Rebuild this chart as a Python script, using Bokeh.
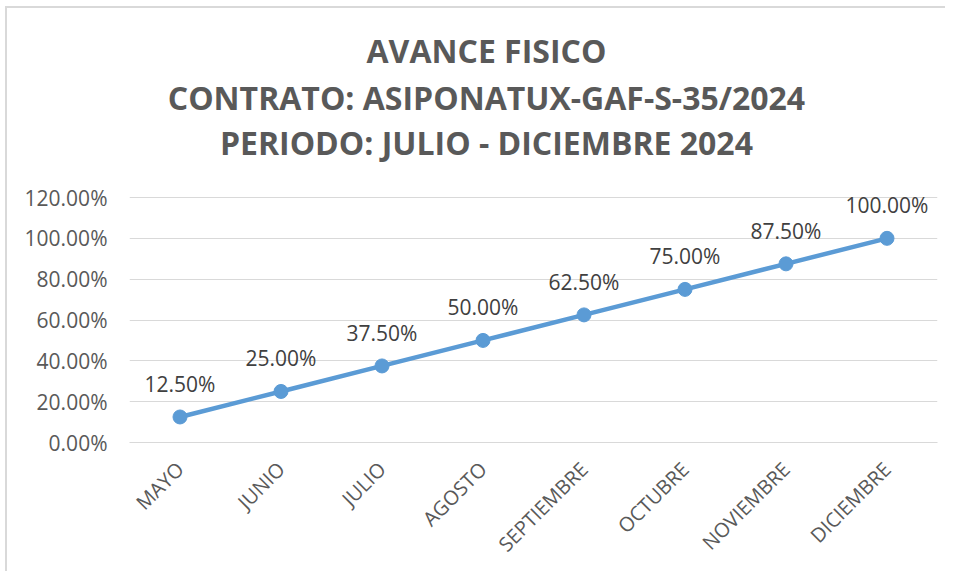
import math
from bokeh.plotting import figure
from bokeh.models import (ColumnDataSource, FactorRange, Range1d, NumeralTickFormatter,
                          FixedTicker, LabelSet, Label)
from bokeh.core.properties import value
from bokeh.embed import file_html
from bokeh.resources import INLINE

months = ["MAYO", "JUNIO", "JULIO", "AGOSTO", "SEPTIEMBRE", "OCTUBRE", "NOVIEMBRE", "DICIEMBRE"]
avance = [0.125, 0.25, 0.375, 0.50, 0.625, 0.75, 0.875, 1.00]
y_ticks = [0.0, 0.2, 0.4, 0.6, 0.8, 1.0, 1.2]
title_lines = ["AVANCE FISICO", "CONTRATO: ASIPONATUX-GAF-S-35/2024", "PERIODO: JULIO - DICIEMBRE 2024"]

FONT = "Open Sans"
BLUE = "#5B9BD5"
GRID = "#D9D9D9"
TXT = "#595959"

src = ColumnDataSource(dict(x=months, y=avance, lbl=[f"{v*100:.2f}%" for v in avance]))

# layout (page pixels): plot frame 129.5..936.5 wide, 0% at y=442, 120% at y=197
BORDER = 2
MX, MY = 5, 6                      # page margin of the figure box
OX, OY = MX + BORDER, MY + BORDER  # content origin on page
frame_left_pg, frame_right_pg = 129.5, 936.5
frame_top_pg, zero_pg, top_tick_pg = OY + 2, 442, 197
px_per_unit = (zero_pg - top_tick_pg) / max(y_ticks)
y_max = (zero_pg - frame_top_pg) / px_per_unit

W, H = 940, 565
p = figure(width=W, height=H, x_range=FactorRange(*months), y_range=Range1d(0, y_max),
           output_backend="svg", toolbar_location=None,
           min_border_left=int(round(frame_left_pg - OX)),
           min_border_right=W - int(round(frame_right_pg - OX)),
           min_border_top=frame_top_pg - OY, min_border_bottom=H - (zero_pg - OY))
p.x_range.range_padding = 0
p.outline_line_color = None
p.styles = {"border-left": f"{BORDER}px solid #D9D9D9", "border-top": f"{BORDER}px solid #D9D9D9",
            "margin-left": f"{MX}px", "margin-top": f"{MY}px"}

p.line("x", "y", source=src, line_color=BLUE, line_width=4.5)
p.scatter("x", "y", source=src, size=14, fill_color=BLUE, line_color=BLUE)

p.add_layout(LabelSet(x="x", y="y", text="lbl", source=src, x_offset=0, y_offset=33,
                      text_align="center", text_baseline="middle",
                      text_font=value(FONT), text_font_size="21px", text_color="#404040"))

# axes
p.yaxis.ticker = FixedTicker(ticks=y_ticks)
p.yaxis.formatter = NumeralTickFormatter(format="0.00%")
p.yaxis.axis_line_color = None
p.yaxis.major_tick_line_color = None
p.yaxis.minor_tick_line_color = None
p.yaxis.major_tick_out = 0
p.yaxis.major_tick_in = 0
p.yaxis.major_label_text_font = FONT
p.yaxis.major_label_text_font_size = "21px"
p.yaxis.major_label_text_color = TXT
p.yaxis.major_label_standoff = 22

p.xaxis.axis_line_color = GRID
p.xaxis.major_tick_line_color = None
p.xaxis.minor_tick_line_color = None
p.xaxis.major_tick_out = 0
p.xaxis.major_tick_in = 0
p.xaxis.major_label_orientation = math.pi / 4
p.xaxis.major_label_text_font = FONT
p.xaxis.major_label_text_font_size = "20px"
p.xaxis.major_label_text_color = TXT
p.xaxis.major_label_standoff = 23

p.xgrid.grid_line_color = None
p.ygrid.ticker = FixedTicker(ticks=y_ticks)
p.ygrid.grid_line_color = GRID
p.ygrid.grid_line_width = 1

# title lines, placed in the frame area above the 120% grid line
title_center_x_pg = 486
title_centers_pg = [50, 97, 142]
n = len(months)
cat_w = (frame_right_pg - frame_left_pg) / n
for txt, cy in zip(title_lines, title_centers_pg):
    p.add_layout(Label(x=(title_center_x_pg - frame_left_pg) / cat_w, y=(zero_pg - cy) / px_per_unit,
                       text=txt, text_align="center", text_baseline="middle",
                       text_font=FONT, text_font_style="bold", text_font_size="32px",
                       text_color=TXT))

open("out.html", "w").write(file_html(p, INLINE))
